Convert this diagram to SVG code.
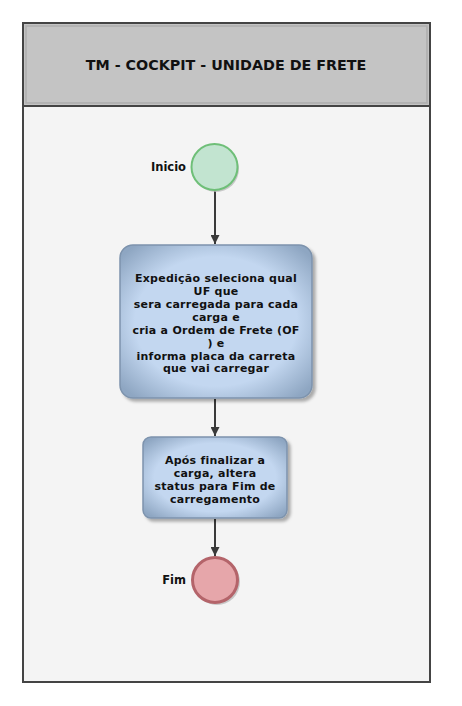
<svg xmlns="http://www.w3.org/2000/svg" width="462" height="706" viewBox="0 0 462 706">
<style>
text{font-family:"DejaVu Sans",Verdana,sans-serif;font-weight:bold;fill:#111}
.t{font-size:11px;letter-spacing:0.25px;text-anchor:middle}
.lbl{font-size:11.5px;text-anchor:end}
.task{stroke:#7d93ad;stroke-width:1.5}
.conn{stroke:#3a3a3a;stroke-width:2;fill:none;marker-end:url(#ah)}
</style>
<defs>
<radialGradient id="tg" cx="50%" cy="50%" r="65%">
<stop offset="0.65" stop-color="#c3d7f0"/>
<stop offset="1" stop-color="#8ea6c2"/>
</radialGradient>
<filter id="sh" x="-20%" y="-20%" width="140%" height="140%">
<feDropShadow dx="3" dy="3" stdDeviation="1.5" flood-color="#000" flood-opacity="0.3"/>
</filter>
<marker id="ah" viewBox="0 0 10 10" refX="10" refY="5" markerWidth="9" markerHeight="9" orient="auto" markerUnits="userSpaceOnUse">
<path d="M0,0 L10,5 L0,10 z" fill="#3a3a3a"/>
</marker>
</defs>
<rect x="0" y="0" width="462" height="706" fill="#fff"/>
<g id="pool">
<rect x="23" y="23" width="407" height="659" fill="#f4f4f4" stroke="#444" stroke-width="2"/>
<rect x="23" y="23" width="407" height="83" fill="#c4c4c4" stroke="#444" stroke-width="2"/>
<rect x="26" y="26" width="401" height="77" fill="none" stroke="#adadad" stroke-width="1.5"/>
<text x="226" y="70" style="font-size:14.3px;text-anchor:middle">TM - COCKPIT - UNIDADE DE FRETE</text>
</g>
<g id="connectors">
<line class="conn" x1="215" y1="190" x2="215" y2="244"/>
<line class="conn" x1="215" y1="399" x2="215" y2="436"/>
<line class="conn" x1="215" y1="519" x2="215" y2="556"/>
</g>
<g id="start">
<circle cx="216" cy="169" r="23" fill="#bbb" opacity="0.8"/>
<circle cx="214.5" cy="167" r="23" fill="#c2e4d0" stroke="#6fbf78" stroke-width="2"/>
<text class="lbl" x="186" y="171">Inicio</text>
</g>
<g id="task1">
<rect x="120" y="245" width="192" height="153" rx="13" fill="url(#tg)" class="task" filter="url(#sh)"/>
<text class="t" x="216" y="282">Expedição seleciona qual</text>
<text class="t" x="216" y="295">UF que</text>
<text class="t" x="216" y="308">sera carregada para cada</text>
<text class="t" x="216" y="321">carga e</text>
<text class="t" x="216" y="334">cria a Ordem de Frete (OF</text>
<text class="t" x="216" y="346.5">) e</text>
<text class="t" x="216" y="359.5">informa placa da carreta</text>
<text class="t" x="216" y="372">que vai carregar</text>
</g>
<g id="task2">
<rect x="143" y="437" width="144" height="81" rx="8" fill="url(#tg)" class="task" filter="url(#sh)"/>
<text class="t" x="215" y="464">Após finalizar a</text>
<text class="t" x="215" y="477">carga, altera</text>
<text class="t" x="215" y="490">status para Fim de</text>
<text class="t" x="215" y="503">carregamento</text>
</g>
<g id="end">
<circle cx="217" cy="582" r="23" fill="#bbb" opacity="0.8"/>
<circle cx="215" cy="580" r="22.5" fill="#e6a6aa" stroke="#b4646a" stroke-width="3"/>
<text class="lbl" x="186" y="584">Fim</text>
</g>
</svg>
